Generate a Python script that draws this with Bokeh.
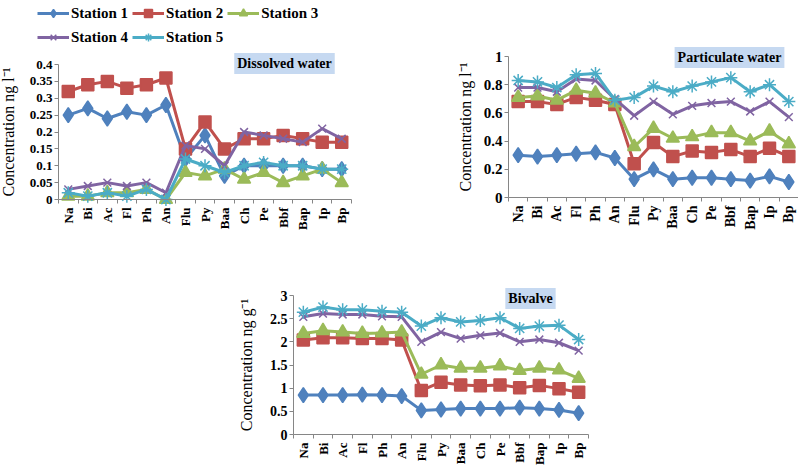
from bokeh.plotting import figure
from bokeh.layouts import column, row
from bokeh.models import (FixedTicker, Legend, LegendItem, Label, Range1d,
                          NumeralTickFormatter)
from bokeh.embed import file_html
from bokeh.resources import INLINE
from math import pi

categories = ["Na", "Bi", "Ac", "Fl", "Ph", "An", "Flu", "Py", "Baa",
              "Ch", "Pe", "Bbf", "Bap", "Ip", "Bp"]
stations = ["Station 1", "Station 2", "Station 3", "Station 4", "Station 5"]

# Dissolved water (ng l-1)
dissolved_s1 = [0.25, 0.27, 0.24, 0.26, 0.25, 0.28, 0.12, 0.19, 0.07, 0.10, 0.10, 0.10, 0.10, 0.09, 0.09]
dissolved_s2 = [0.32, 0.34, 0.35, 0.33, 0.34, 0.36, 0.15, 0.23, 0.15, 0.18, 0.18, 0.19, 0.18, 0.17, 0.17]
dissolved_s3 = [0.01, 0.01, 0.02, 0.02, 0.03, 0.00, 0.08, 0.07, 0.09, 0.06, 0.08, 0.05, 0.07, 0.09, 0.05]
dissolved_s4 = [0.03, 0.04, 0.05, 0.04, 0.05, 0.02, 0.16, 0.15, 0.10, 0.20, 0.19, 0.18, 0.17, 0.21, 0.18]
dissolved_s5 = [0.02, 0.01, 0.02, 0.01, 0.03, 0.00, 0.12, 0.10, 0.08, 0.10, 0.11, 0.10, 0.10, 0.09, 0.09]

# Particulate water (ng l-1)
particulate_s1 = [0.30, 0.29, 0.30, 0.31, 0.32, 0.28, 0.13, 0.20, 0.13, 0.14, 0.14, 0.13, 0.12, 0.15, 0.11]
particulate_s2 = [0.68, 0.68, 0.66, 0.71, 0.69, 0.66, 0.24, 0.39, 0.29, 0.33, 0.32, 0.34, 0.29, 0.35, 0.29]
particulate_s3 = [0.71, 0.72, 0.69, 0.76, 0.74, 0.67, 0.36, 0.49, 0.42, 0.43, 0.46, 0.46, 0.40, 0.47, 0.38]
particulate_s4 = [0.78, 0.78, 0.75, 0.84, 0.83, 0.70, 0.58, 0.68, 0.59, 0.65, 0.67, 0.68, 0.61, 0.68, 0.57]
particulate_s5 = [0.83, 0.82, 0.78, 0.87, 0.88, 0.69, 0.71, 0.79, 0.75, 0.79, 0.82, 0.85, 0.75, 0.80, 0.68]

# Bivalve (ng g-1)
bivalve_s1 = [0.85, 0.85, 0.85, 0.86, 0.85, 0.83, 0.52, 0.54, 0.56, 0.56, 0.56, 0.58, 0.56, 0.53, 0.46]
bivalve_s2 = [2.04, 2.09, 2.09, 2.07, 2.07, 2.04, 0.95, 1.13, 1.07, 1.05, 1.07, 1.01, 1.06, 0.99, 0.91]
bivalve_s3 = [2.18, 2.24, 2.21, 2.18, 2.19, 2.21, 1.30, 1.50, 1.43, 1.43, 1.48, 1.38, 1.43, 1.39, 1.21]
bivalve_s4 = [2.54, 2.61, 2.59, 2.59, 2.55, 2.54, 2.00, 2.21, 2.07, 2.14, 2.19, 2.00, 2.05, 1.98, 1.81]
bivalve_s5 = [2.64, 2.75, 2.69, 2.69, 2.66, 2.64, 2.34, 2.52, 2.43, 2.46, 2.52, 2.29, 2.34, 2.36, 2.05]

dissolved_yticks = [0, 0.05, 0.1, 0.15, 0.2, 0.25, 0.3, 0.35, 0.4]
particulate_yticks = [0, 0.2, 0.4, 0.6, 0.8, 1]
bivalve_yticks = [0, 0.5, 1, 1.5, 2, 2.5, 3]

COLORS = ["#4f81bd", "#c0504d", "#9bbb59", "#8064a2", "#4bacc6"]
MARKERS = [("diamond", 15), ("square", 12), ("triangle", 13), ("x", 11), ("asterisk", 13)]
SERIF = "Liberation Serif"
AXIS_GREY = "#868686"


def make_panel(series, yticks, ylabel, title, title_pos, canvas, area,
               tick_font, xtick_font, ylabel_standoff):
    """canvas = (w, h); area = (left, right, top, bottom) pixel edges of the
    plotting area inside the canvas; the whole canvas is the frame."""
    cw, ch = canvas
    left, right, top, bottom = area
    n = len(categories)
    ymax = yticks[-1]
    ux = (right - left) / n
    uy = (bottom - top) / ymax
    p = figure(width=cw, height=ch, frame_width=cw, frame_height=ch,
               output_backend="svg", toolbar_location=None,
               x_range=Range1d(0.5 - left / ux, 0.5 + (cw - left) / ux),
               y_range=Range1d(-(ch - bottom) / uy, bottom / uy),
               min_border_left=0, min_border_right=0,
               min_border_top=0, min_border_bottom=0)
    p.title.visible = False
    p.outline_line_color = None
    p.grid.visible = False
    p.background_fill_color = "white"
    p.border_fill_color = "white"
    xs = list(range(1, n + 1))
    rends = []
    for vals, color, (mk, sz) in zip(series, COLORS, MARKERS):
        ln = p.line(xs, vals, line_color=color, line_width=3)
        sc = p.scatter(xs, vals, marker=mk, size=sz, fill_color=color,
                       line_color=color, line_width=1.5)
        rends.append((ln, sc))

    xa = p.xaxis[0]
    xa.fixed_location = 0
    xa.bounds = (0.5, n + 0.5)
    xa.ticker = FixedTicker(ticks=xs,
                            minor_ticks=[x - 0.5 for x in xs] + [n + 0.5])
    xa.major_label_overrides = {x: c for x, c in zip(xs, categories)}
    xa.major_label_orientation = pi / 2
    xa.major_tick_out = 0
    xa.major_tick_in = 0
    xa.minor_tick_out = 4
    xa.minor_tick_in = 0
    xa.major_label_standoff = 4
    xa.axis_line_color = AXIS_GREY
    xa.minor_tick_line_color = AXIS_GREY
    xa.major_label_text_font = SERIF
    xa.major_label_text_font_style = "bold"
    xa.major_label_text_font_size = xtick_font
    xa.major_label_text_color = "black"

    ya = p.yaxis[0]
    ya.fixed_location = 0.5
    ya.bounds = (0, ymax)
    ya.ticker = FixedTicker(ticks=yticks, minor_ticks=[])
    ya.formatter = NumeralTickFormatter(format="0.[00]")
    ya.major_tick_out = 4
    ya.major_tick_in = 0
    ya.minor_tick_out = 0
    ya.minor_tick_in = 0
    ya.major_label_standoff = 2
    ya.axis_line_color = AXIS_GREY
    ya.major_tick_line_color = AXIS_GREY
    ya.major_label_text_font = SERIF
    ya.major_label_text_font_style = "bold"
    ya.major_label_text_font_size = tick_font
    ya.major_label_text_color = "black"
    ya.axis_label = ylabel
    ya.axis_label_text_font = SERIF
    ya.axis_label_text_font_style = "normal"
    ya.axis_label_text_font_size = "16px"
    ya.axis_label_text_color = "black"
    ya.axis_label_standoff = ylabel_standoff

    tx, ty = title_pos
    lab = Label(x=tx, y=ch - ty, x_units="screen", y_units="screen",
                text=title, text_font=SERIF,
                text_font_style="bold", text_font_size="14px",
                text_color="black", text_align="center",
                text_baseline="middle", background_fill_color="#c6d9f1",
                padding=3)
    p.add_layout(lab)
    return p, rends


p1, r1 = make_panel([dissolved_s1, dissolved_s2, dissolved_s3, dissolved_s4, dissolved_s5],
                    dissolved_yticks, "Concentration ng l\u207b\u00b9",
                    "Dissolved water", (284, 63),
                    canvas=(360, 234), area=(58, 351, 64, 199),
                    tick_font="13px", xtick_font="13px", ylabel_standoff=10)

p2, _ = make_panel([particulate_s1, particulate_s2, particulate_s3, particulate_s4, particulate_s5],
                   particulate_yticks, "Concentration ng l\u207b\u00b9",
                   "Particulate water", (369, 57),
                   canvas=(438, 234), area=(148, 438, 56, 197),
                   tick_font="15px", xtick_font="14px", ylabel_standoff=7)

p3, _ = make_panel([bivalve_s1, bivalve_s2, bivalve_s3, bivalve_s4, bivalve_s5],
                   bivalve_yticks, "Concentration ng g\u207b\u00b9",
                   "Bivalve", (530, 64),
                   canvas=(600, 231), area=(293, 588, 61, 200),
                   tick_font="14px", xtick_font="13px", ylabel_standoff=12)

legend = Legend(
    items=[LegendItem(label=s, renderers=[ln, sc]) for s, (ln, sc) in zip(stations, r1)],
    location=(37, 187), orientation="horizontal", ncols=3,
    glyph_width=32, glyph_height=20, label_height=20, label_standoff=2,
    spacing=4, padding=0, margin=0,
    label_text_font=SERIF, label_text_font_style="bold",
    label_text_font_size="15px", label_text_color="black",
    border_line_alpha=0, background_fill_alpha=0)
p1.add_layout(legend)

layout = column(row(p1, p2), p3)

open("out.html", "w").write(file_html(layout, INLINE))
